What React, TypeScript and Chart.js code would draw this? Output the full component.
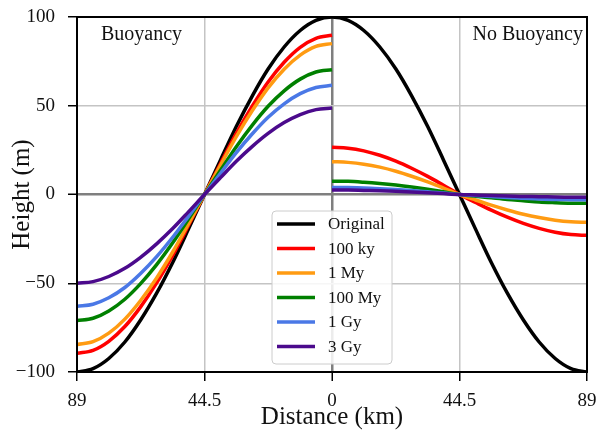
import React, { useEffect, useRef } from 'react';
import { Chart, registerables } from 'chart.js';

Chart.register(...registerables);

const seriesNames = ['Original', '100 ky', '1 My', '100 My', '1 Gy', '3 Gy'];
const seriesColors = ['#000000', '#ff0000', '#ff9b12', '#008000', '#4a78e6', '#4b0a8c'];

const xFull = [-89, -83.4, -77.9, -72.3, -66.8, -61.2, -55.6, -50.1, -44.5, -38.9, -33.4, -27.8, -22.3, -16.7, -11.1, -5.6, 0,
  5.6, 11.1, 16.7, 22.3, 27.8, 33.4, 38.9, 44.5, 50.1, 55.6, 61.2, 66.8, 72.3, 77.9, 83.4, 89];
const xLeft = [-89, -83.4, -77.9, -72.3, -66.8, -61.2, -55.6, -50.1, -44.5, -38.9, -33.4, -27.8, -22.3, -16.7, -11.1, -5.6, 0];
const xRight = [0, 5.6, 11.1, 16.7, 22.3, 27.8, 33.4, 38.9, 44.5, 50.1, 55.6, 61.2, 66.8, 72.3, 77.9, 83.4, 89];

const original = [-100, -98.1, -92.4, -83.1, -70.7, -55.6, -38.3, -19.5, 0, 19.5, 38.3, 55.6, 70.7, 83.1, 92.4, 98.1, 100,
  98.1, 92.4, 83.1, 70.7, 55.6, 38.3, 19.5, 0, -19.5, -38.3, -55.6, -70.7, -83.1, -92.4, -98.1, -100];

const buoy100ky = [-89.5, -87.8, -82.7, -74.4, -63.3, -49.8, -34.3, -17.5, 0, 17.5, 34.4, 49.9, 63.4, 74.5, 82.9, 88.0, 89.7];
const buoy1My = [-84.5, -82.9, -78.1, -70.2, -59.7, -47.0, -32.4, -16.5, 0, 16.6, 32.6, 47.3, 60.1, 70.6, 78.5, 83.4, 85.0];
const buoy100My = [-71.0, -69.7, -65.6, -59.0, -50.2, -39.5, -27.2, -13.8, 0, 13.7, 26.9, 39.1, 49.7, 58.4, 65.0, 69.0, 70.3];
const buoy1Gy = [-63.0, -61.8, -58.2, -52.4, -44.5, -35.0, -24.1, -12.3, 0, 12.0, 23.6, 34.2, 43.5, 51.1, 56.8, 60.3, 61.5];
const buoy3Gy = [-50.0, -49.1, -46.2, -41.6, -35.4, -27.8, -19.2, -9.8, 0, 9.5, 18.7, 27.1, 34.4, 40.5, 45.0, 47.8, 48.7];

const noBuoy100ky = [26.6, 26.1, 24.6, 22.1, 18.8, 14.8, 10.2, 5.2, 0, -4.5, -8.8, -12.8, -16.3, -19.1, -21.3, -22.6, -23.0];
const noBuoy1My = [18.5, 18.1, 17.1, 15.4, 13.1, 10.3, 7.1, 3.6, 0, -3.1, -6.0, -8.7, -11.1, -13.0, -14.5, -15.4, -15.7];
const noBuoy100My = [7.5, 7.4, 6.9, 6.2, 5.3, 4.2, 2.9, 1.5, 0, -1.0, -1.9, -2.8, -3.5, -4.2, -4.6, -4.9, -5.0];
const noBuoy1Gy = [4.0, 3.9, 3.7, 3.3, 2.8, 2.2, 1.5, 0.8, 0, -0.6, -1.1, -1.7, -2.1, -2.5, -2.8, -2.9, -3.0];
const noBuoy3Gy = [2.5, 2.5, 2.3, 2.1, 1.8, 1.4, 1.0, 0.5, 0, -0.3, -0.6, -0.8, -1.1, -1.2, -1.4, -1.5, -1.5];

const xTicks = [-89, -44.5, 0, 44.5, 89];
const yTicks = [-100, -50, 0, 50, 100];

const SERIF = "'Liberation Serif', 'DejaVu Serif', serif";
const TEXT = '#111111';

function pts(xs: number[], ys: number[]) {
  return xs.map((x, i) => ({ x, y: ys[i] }));
}

const overlayPlugin = {
  id: 'overlay',
  afterDraw(chart: any) {
    const { ctx, chartArea } = chart;
    const { left, right, top, bottom } = chartArea;
    ctx.save();
    ctx.strokeStyle = '#000';
    ctx.lineWidth = 2;
    ctx.strokeRect(left, top, right - left, bottom - top);
    ctx.fillStyle = TEXT;
    ctx.font = `20px ${SERIF}`;
    ctx.textBaseline = 'middle';
    ctx.textAlign = 'left';
    ctx.fillText('Buoyancy', 101, 35);
    ctx.textAlign = 'right';
    ctx.fillText('No Buoyancy', 583, 35);
    const bx = 272, by = 211, bw = 120, bh = 153;
    ctx.beginPath();
    ctx.roundRect(bx, by, bw, bh, 4);
    ctx.fillStyle = 'rgba(255,255,255,0.85)';
    ctx.fill();
    ctx.strokeStyle = '#cccccc';
    ctx.lineWidth = 1;
    ctx.stroke();
    ctx.font = `17px ${SERIF}`;
    ctx.textAlign = 'left';
    ctx.textBaseline = 'middle';
    seriesNames.forEach((name, i) => {
      const y = 224 + i * 24.5;
      ctx.strokeStyle = seriesColors[i];
      ctx.lineWidth = 3.5;
      ctx.beginPath();
      ctx.moveTo(277, y);
      ctx.lineTo(315, y);
      ctx.stroke();
      ctx.fillStyle = TEXT;
      ctx.fillText(name, 328, y + 1);
    });
    ctx.restore();
  },
};

export default function App() {
  const ref = useRef<HTMLCanvasElement>(null);
  useEffect(() => {
    if (!ref.current) return;
    const mk = (label: string, xs: number[], ys: number[], color: string, order: number) => ({
      label,
      data: pts(xs, ys),
      borderColor: color,
      backgroundColor: color,
      borderWidth: 3.5,
      pointRadius: 0,
      fill: false,
      cubicInterpolationMode: 'monotone' as const,
      order,
    });
    const datasets = [
      mk(seriesNames[0], xFull, original, seriesColors[0], 10),
      mk(seriesNames[1], xLeft, buoy100ky, seriesColors[1], 9),
      mk(seriesNames[1], xRight, noBuoy100ky, seriesColors[1], 9),
      mk(seriesNames[2], xLeft, buoy1My, seriesColors[2], 8),
      mk(seriesNames[2], xRight, noBuoy1My, seriesColors[2], 8),
      mk(seriesNames[3], xLeft, buoy100My, seriesColors[3], 7),
      mk(seriesNames[3], xRight, noBuoy100My, seriesColors[3], 7),
      mk(seriesNames[4], xLeft, buoy1Gy, seriesColors[4], 6),
      mk(seriesNames[4], xRight, noBuoy1Gy, seriesColors[4], 6),
      mk(seriesNames[5], xLeft, buoy3Gy, seriesColors[5], 5),
      mk(seriesNames[5], xRight, noBuoy3Gy, seriesColors[5], 5),
    ];
    const gridColor = (c: any) => (c.tick && c.tick.value === 0 ? '#7f7f7f' : '#c4c4c4');
    const gridWidth = (c: any) => (c.tick && c.tick.value === 0 ? 2.5 : 1.5);
    const chart = new Chart(ref.current, {
      type: 'line',
      data: { datasets },
      plugins: [overlayPlugin],
      options: {
        animation: false,
        responsive: false,
        maintainAspectRatio: false,
        layout: { padding: { left: 0, right: 11, top: 17, bottom: 0 } },
        plugins: { legend: { display: false }, tooltip: { enabled: false } },
        scales: {
          x: {
            type: 'linear',
            min: -89,
            max: 89,
            afterBuildTicks: (s: any) => { s.ticks = xTicks.map((v) => ({ value: v })); },
            afterFit: (s: any) => { s.height = 58; s.paddingLeft = 0; s.paddingRight = 0; },
            grid: { color: gridColor, lineWidth: gridWidth, tickColor: '#000', tickLength: 9, tickWidth: 1.5 },
            border: { display: false },
            ticks: {
              padding: 9,
              color: TEXT,
              font: { family: SERIF, size: 19 },
              maxRotation: 0,
              callback: (v: any) => String(Math.abs(Number(v))),
            },
            title: {
              display: true,
              text: 'Distance (km)',
              color: TEXT,
              font: { family: SERIF, size: 25, lineHeight: 1 },
              padding: { top: 0, bottom: 0 },
            },
          },
          y: {
            type: 'linear',
            min: -100,
            max: 100,
            afterBuildTicks: (s: any) => { s.ticks = yTicks.map((v) => ({ value: v })); },
            afterFit: (s: any) => { s.width = 77; s.paddingTop = 0; s.paddingBottom = 0; },
            grid: { color: gridColor, lineWidth: gridWidth, tickColor: '#000', tickLength: 9, tickWidth: 1.5 },
            border: { display: false },
            ticks: {
              padding: 13,
              color: TEXT,
              font: { family: SERIF, size: 19 },
              callback: (v: any) => (Number(v) < 0 ? '\u2212' + Math.abs(Number(v)) : String(v)),
            },
            title: {
              display: true,
              text: 'Height (m)',
              color: TEXT,
              font: { family: SERIF, size: 25, lineHeight: 1 },
              padding: { top: 10, bottom: 0 },
            },
          },
        },
      },
    });
    return () => chart.destroy();
  }, []);
  return (
    <div style={{ position: 'fixed', left: 0, top: 0, width: 598, height: 430, background: '#fff' }}>
      <canvas ref={ref} width={598} height={430} style={{ width: 598, height: 430, display: 'block' }} />
    </div>
  );
}
